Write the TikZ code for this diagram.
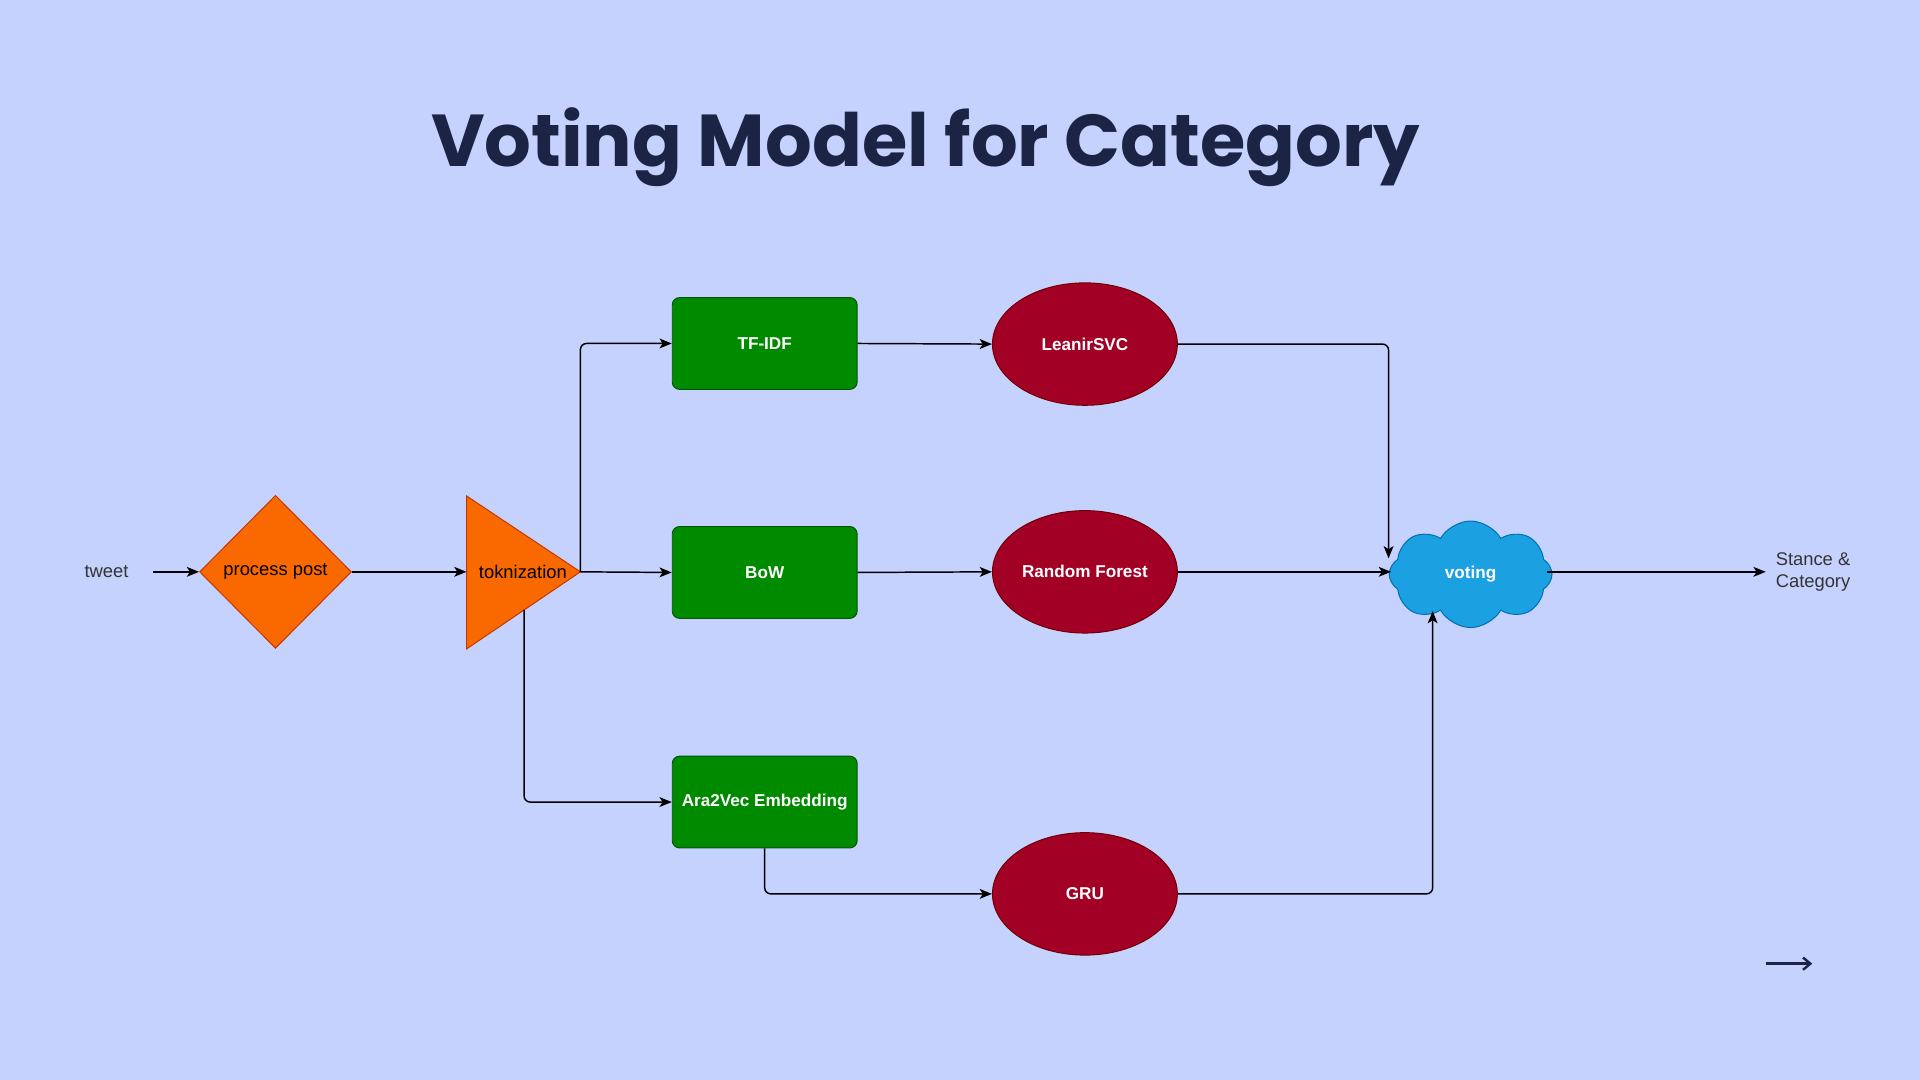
\documentclass[tikz,border=0pt]{standalone}
\usepackage{fontspec}
\setmainfont{Liberation Sans}
\newfontfamily\titlefont{Poppins}
\usetikzlibrary{shapes.geometric,shapes.symbols,arrows.meta}
\definecolor{bgc}{HTML}{C6D2FE}
\definecolor{titlec}{HTML}{1B2444}
\definecolor{orangef}{HTML}{FA6800}
\definecolor{oranged}{HTML}{C73500}
\definecolor{greenf}{HTML}{008A00}
\definecolor{greend}{HTML}{005700}
\definecolor{redf}{HTML}{A20025}
\definecolor{redd}{HTML}{6F0000}
\definecolor{bluef}{HTML}{1BA1E2}
\definecolor{blued}{HTML}{006EAF}
\definecolor{txtg}{HTML}{333333}
\tikzset{
  conn/.style={draw=black, line width=1.2pt, rounded corners=5pt, -{Stealth[length=10pt,width=8pt,inset=2.5pt]}},
  greenbox/.style={draw=greend, fill=greenf, line width=0.8pt, rounded corners=6pt, minimum width=151pt, minimum height=75pt, inner sep=0pt, text=white, font=\bfseries\fontsize{14}{16}\selectfont},
  redell/.style={ellipse, draw=redd, fill=redf, line width=0.8pt, minimum width=151pt, minimum height=100pt, inner sep=0pt, text=white, font=\bfseries\fontsize{14}{16}\selectfont},
  plainlabel/.style={text=txtg, font=\fontsize{15}{18}\selectfont, inner sep=0pt},
}
\begin{document}
\begin{tikzpicture}[x=1pt,y=-1pt]
\useasboundingbox (0,0) rectangle (1568,882);
\fill[bgc] (0,0) rectangle (1568,882);
\node[text=titlec, font=\titlefont\bfseries\fontsize{60}{68}\selectfont] (title) at (756,120) {Voting Model for Category};

\node[plainlabel] (tweet) at (87,467) {tweet};
\coordinate (tweetE) at (125,467);
\node[diamond, draw=oranged, fill=orangef, line width=0.8pt, minimum width=124pt, minimum height=125pt, inner sep=0pt, font=\fontsize{15}{18}\selectfont] (proc) at (225,467) {process post};

\coordinate (tokT) at (381,405);
\coordinate (tokB) at (381,530);
\coordinate (tokA) at (474,467);
\coordinate (tokW) at (381,467);
\coordinate (tokD) at (428,498);
\filldraw[draw=oranged, fill=orangef, line width=0.8pt] (tokT) -- (tokA) -- (tokB) -- cycle;
\node[font=\fontsize{15}{18}\selectfont, inner sep=0pt] (tok) at (427,467) {toknization};

\node[greenbox] (tfidf) at (624.5,280.5) {TF-IDF};
\node[greenbox] (bow) at (624.5,467.5) {BoW};
\node[greenbox] (ara) at (624.5,655) {Ara2Vec Embedding};

\node[redell] (svc) at (886,281) {LeanirSVC};
\node[redell] (rf) at (886,467) {Random Forest};
\node[redell] (gru) at (886,730) {GRU};

\node[cloud, cloud puffs=8, cloud puff arc=120, aspect=1.5, draw=blued, fill=bluef, line width=0.8pt, minimum width=133pt, minimum height=87pt, inner sep=0pt, text=white, font=\bfseries\fontsize{14}{16}\selectfont] (vote) at (1201,469) {voting};

\node[plainlabel, align=left, anchor=west] (out) at (1450,467.5) {Stance \&\\Category};

\draw[conn] (tweetE) -- (proc.west);
\draw[conn] (proc.east) -- (tokW);
\draw[conn] (tokA) -- (bow.west);
\draw[conn] (tokA) -- (tokA |- tfidf.west) -- (tfidf.west);
\draw[conn] (tokD) -- (tokD |- ara.west) -- (ara.west);
\draw[conn] (tfidf.east) -- (svc.west);
\draw[conn] (bow.east) -- (rf.west);
\draw[conn] (ara.south) -- (ara.south |- gru.west) -- (gru.west);
\draw[conn] (svc.east) -- (1134,281) -- (1134,456);
\draw[conn] (rf.east) -- (1136,467);
\draw[conn] (gru.east) -- (1170,730) -- (1170,499);
\draw[conn] (1263,467) -- (1442,467);

\draw[titlec, line width=2pt, -{Straight Barb[length=6pt,width=10pt]}] (1442,787) -- (1480,787);
\end{tikzpicture}
\end{document}
